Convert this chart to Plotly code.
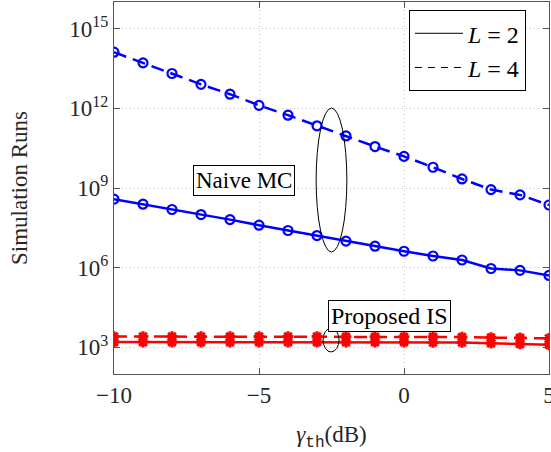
import plotly.graph_objects as go

gamma_db = [-10, -9, -8, -7, -6, -5, -4, -3, -2, -1, 0, 1, 2, 3, 4, 5]

# log10 of simulation runs
naive_L2_log = [8.58, 8.39, 8.19, 8.00, 7.81, 7.60, 7.40, 7.21, 7.00, 6.81, 6.62, 6.44, 6.29, 5.97, 5.90, 5.71]
naive_L4_log = [14.11, 13.71, 13.31, 12.90, 12.53, 12.11, 11.74, 11.34, 10.96, 10.56, 10.19, 9.78, 9.34, 8.94, 8.74, 8.36]
is_L2_log = [3.20, 3.20, 3.20, 3.20, 3.20, 3.20, 3.20, 3.20, 3.20, 3.20, 3.20, 3.19, 3.19, 3.16, 3.13, 3.10]
is_L4_log = [3.41, 3.41, 3.41, 3.41, 3.41, 3.41, 3.41, 3.41, 3.40, 3.40, 3.40, 3.40, 3.39, 3.37, 3.36, 3.34]

naive_L2 = [10 ** v for v in naive_L2_log]
naive_L4 = [10 ** v for v in naive_L4_log]
is_L2 = [10 ** v for v in is_L2_log]
is_L4 = [10 ** v for v in is_L4_log]

ytick_vals = [1e3, 1e6, 1e9, 1e12, 1e15]
ytick_text = ["10<sup>3</sup>", "10<sup>6</sup>", "10<sup>9</sup>", "10<sup>12</sup>", "10<sup>15</sup>"]
xtick_vals = [-10, -5, 0, 5]
xtick_text = ["\u221210", "\u22125", "0", "5"]

FONT = "Liberation Serif, DejaVu Serif, serif"
TXT = "#262626"
BLUE = "#0000ff"
RED = "#ff0000"

fig = go.Figure()

fig.add_trace(go.Scatter(x=gamma_db, y=naive_L2, mode="lines+markers", showlegend=False,
                         line=dict(color=BLUE, width=2.5),
                         marker=dict(symbol="circle-open", size=9, color=BLUE, line=dict(width=2.2, color=BLUE))))
fig.add_trace(go.Scatter(x=gamma_db, y=naive_L4, mode="lines+markers", showlegend=False,
                         line=dict(color=BLUE, width=2.5, dash="13px,7px"),
                         marker=dict(symbol="circle-open", size=9, color=BLUE, line=dict(width=2.2, color=BLUE))))
fig.add_trace(go.Scatter(x=gamma_db, y=is_L2, mode="lines+markers", showlegend=False,
                         line=dict(color=RED, width=2.5),
                         marker=dict(symbol="asterisk-open", size=9, color=RED, line=dict(width=3, color=RED))))
fig.add_trace(go.Scatter(x=gamma_db, y=is_L4, mode="lines+markers", showlegend=False,
                         line=dict(color=RED, width=2.5, dash="13px,7px"),
                         marker=dict(symbol="asterisk-open", size=9, color=RED, line=dict(width=3, color=RED))))

fig.add_trace(go.Scatter(x=[None], y=[None], mode="lines", name="<i>L</i> = 2",
                         line=dict(color="black", width=1)))
fig.add_trace(go.Scatter(x=[None], y=[None], mode="lines", name="<i>L</i> = 4",
                         line=dict(color="black", width=1, dash="7px,6px")))

fig.add_shape(type="circle", xref="x", yref="y", x0=-3.03, x1=-1.97, y0=10 ** 6.59, y1=10 ** 12.01,
              line=dict(color="black", width=1))
fig.add_shape(type="circle", xref="x", yref="y", x0=-2.79, x1=-2.24, y0=10 ** 2.83, y1=10 ** 3.73,
              line=dict(color="black", width=1))

fig.add_annotation(x=-5.52, y=9.3, xref="x", yref="y", text="Naive MC", showarrow=False,
                   font=dict(family=FONT, size=23, color="black"), bgcolor="white",
                   bordercolor="black", borderwidth=1, borderpad=2)
fig.add_annotation(x=-0.5, y=4.2, xref="x", yref="y", text="Proposed IS", showarrow=False,
                   font=dict(family=FONT, size=24, color="black"), bgcolor="white",
                   bordercolor="black", borderwidth=1, borderpad=2)

axis_common = dict(showline=True, linecolor="#555", linewidth=1, mirror="ticks", ticks="inside",
                   ticklen=6, tickcolor="#555", showgrid=True, gridcolor="#c8c8c8", griddash="1px,3px",
                   gridwidth=1, zeroline=False, ticklabeloverflow="allow", automargin=False,
                   tickfont=dict(family=FONT, size=23, color=TXT))

fig.update_xaxes(range=[-10, 5], tickvals=xtick_vals, ticktext=xtick_text,
                 title=dict(text="<i>γ</i><sub><span style='font-family:Liberation Mono'>th</span></sub>(dB)",
                            font=dict(family=FONT, size=23, color=TXT), standoff=40),
                 **axis_common)
fig.update_yaxes(type="log", range=[2, 16], tickvals=ytick_vals, ticktext=ytick_text,
                 title=dict(text="Simulation Runs", font=dict(family=FONT, size=23, color=TXT), standoff=35),
                 **axis_common)

fig.update_layout(
    width=551, height=452,
    margin=dict(l=114, r=2, t=2, b=78),
    plot_bgcolor="white", paper_bgcolor="white",
    font=dict(family=FONT, size=23, color=TXT),
    legend=dict(x=0.678, y=0.978, xanchor="left", yanchor="top", bgcolor="white",
                bordercolor="black", borderwidth=1, font=dict(family=FONT, size=24, color="black"),
                tracegroupgap=0, itemwidth=48),
)

fig.write_html("out.html")
